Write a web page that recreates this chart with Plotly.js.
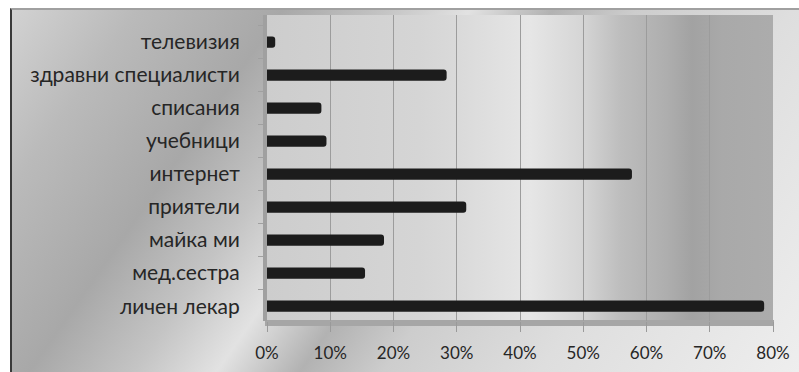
<!DOCTYPE html>
<html>
<head>
<meta charset="utf-8">
<script src="https://cdn.plot.ly/plotly-3.0.1.min.js"></script>
<style>
html,body{margin:0;padding:0;background:#ffffff;}
#wrap{position:relative;width:799px;height:372px;overflow:hidden;background:#fff;}
#frame{position:absolute;left:10px;top:8px;width:789px;height:364px;
  background:linear-gradient(125deg,#d2d2d2 0%,#bababa 12%,#a8a8a8 26%,#c4c4c4 36%,#e2e2e2 44%,#b2b2b2 52%,#cdcdcd 60%,#dedede 75%,#eeeeee 100%);
  border-left:2px solid #3a3a3a;border-top:2px solid #a0a0a0;box-sizing:border-box;}
#plotbg{position:absolute;left:267px;top:15px;width:506px;height:306px;
  background:linear-gradient(90deg,#cdcdcd 0%,#d5d5d5 30%,#dadada 38%,#e6e6e6 52%,#d6d6d6 62%,#bdbdbd 70%,#aeaeae 79%,#a2a2a2 84%,#a9a9a9 90%,#acacac 100%);}
#floor{position:absolute;left:265px;top:320px;width:509px;height:6px;background:#a6a6a6;}
#chart{position:absolute;left:0;top:0;width:799px;height:372px;}
</style>
</head>
<body>
<div id="wrap">
  <div id="frame"></div>
  <div id="plotbg"></div>
  <div id="floor"></div>
  <div id="chart"></div>
</div>
<script>
var categories = ['личен лекар','мед.сестра','майка ми','приятели','интернет','учебници','списания','здравни специалисти','телевизия'];
var values = [0.786, 0.155, 0.185, 0.315, 0.577, 0.094, 0.086, 0.284, 0.013];
var tickVals = [0, 0.1, 0.2, 0.3, 0.4, 0.5, 0.6, 0.7, 0.8];
var tickText = ['0%','10%','20%','30%','40%','50%','60%','70%','80%'];

var trace = {
  type: 'bar',
  orientation: 'h',
  x: values,
  y: categories,
  marker: {color: '#1c1c1c', cornerradius: 3, line: {width: 0}},
  hoverinfo: 'none'
};

var layout = {
  width: 799, height: 372,
  margin: {l: 267, r: 26, t: 15, b: 51, pad: 0},
  paper_bgcolor: 'rgba(0,0,0,0)',
  plot_bgcolor: 'rgba(0,0,0,0)',
  showlegend: false,
  bargap: 0.66,
  font: {family: 'Lato, Noto Sans, sans-serif', size: 21, color: '#262626'},
  xaxis: {
    range: [0, 0.8],
    tickvals: tickVals,
    ticktext: tickText,
    tickfont: {size: 17},
    showgrid: true,
    gridcolor: '#9c9c9c',
    gridwidth: 1,
    zeroline: false,
    showline: false,
    ticks: 'outside',
    ticklen: 10,
    tickcolor: '#9a9a9a',
    ticklabelstandoff: 7,
    fixedrange: true
  },
  yaxis: {
    type: 'category',
    categoryorder: 'array',
    categoryarray: categories,
    range: [-0.45, 8.82],
    showgrid: false,
    zeroline: false,
    showline: true,
    linecolor: '#a0a0a0',
    linewidth: 4,
    ticks: 'outside',
    tickson: 'boundaries',
    ticklen: 5,
    tickcolor: '#a0a0a0',
    ticklabelstandoff: 19,
    fixedrange: true
  }
};

Plotly.newPlot('chart', [trace], layout, {displayModeBar: false, staticPlot: true});
</script>
</body>
</html>
